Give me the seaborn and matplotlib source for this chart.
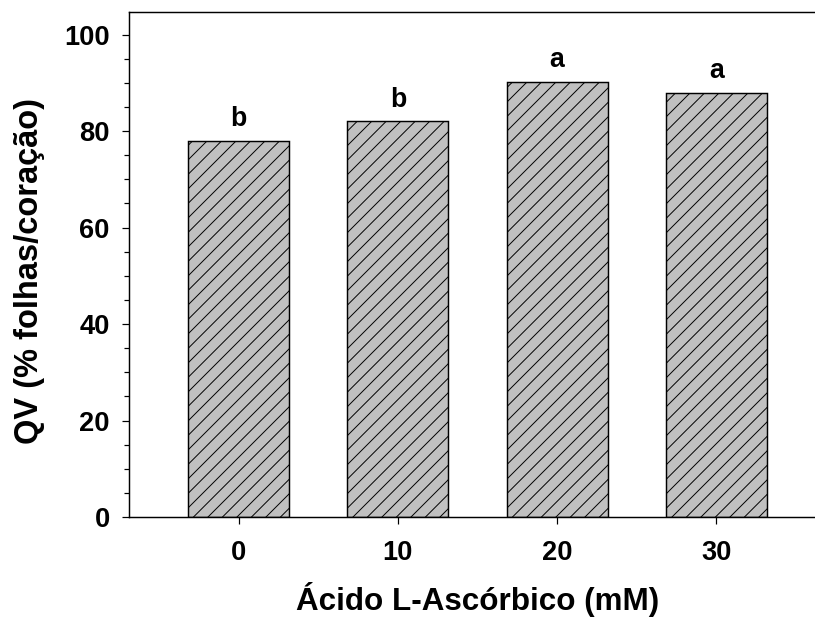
import matplotlib
matplotlib.use("Agg")
import matplotlib.pyplot as plt
from matplotlib.ticker import MultipleLocator
import seaborn as sns
import pandas as pd

# Ascorbic acid concentration (mM) and leaf quality (% leaves/heart)
concentrations = ["0", "10", "20", "30"]
qv_values = [78.0, 82.0, 90.2, 88.0]
letters = ["b", "b", "a", "a"]

DPI = 87
sns.set_theme(style="ticks")
plt.rcParams["font.family"] = ["Liberation Sans", "DejaVu Sans"]
plt.rcParams["font.weight"] = "bold"
plt.rcParams["hatch.linewidth"] = 0.8
plt.rcParams["hatch.color"] = "#1a1a1a"

fig = plt.figure(figsize=(816 / DPI, 618 / DPI), dpi=DPI)
ax = fig.add_axes([129 / 816, 101 / 618, (826 - 129) / 816, (517 - 12) / 618])

df = pd.DataFrame({"conc": concentrations, "qv": qv_values})
sns.barplot(data=df, x="conc", y="qv", order=concentrations, color="#C0C0C0",
            saturation=1, edgecolor="black", linewidth=1.2, width=0.635, ax=ax)

for patch in ax.patches:
    patch.set_hatch("//")
    patch.set_facecolor("#C0C0C0")

ax.bar_label(ax.containers[0], labels=letters, padding=7,
             fontsize=22, fontweight="bold", color="black")

ax.set_xlim(-0.69, 3.69)
ax.set_ylim(0, 104.7)
ax.yaxis.set_major_locator(MultipleLocator(20))
ax.yaxis.set_minor_locator(MultipleLocator(5))

ax.tick_params(axis="both", which="major", direction="out", length=6, width=1,
               labelsize=22.5, color="black", labelcolor="black")
ax.tick_params(axis="y", which="major", pad=10)
ax.tick_params(axis="x", which="major", pad=13)
ax.tick_params(axis="y", which="minor", direction="out", length=4, width=1,
               color="black")
for lbl in ax.get_xticklabels() + ax.get_yticklabels():
    lbl.set_fontweight("bold")

for spine in ax.spines.values():
    spine.set_visible(True)
    spine.set_linewidth(1.2)
    spine.set_color("black")

ax.set_xlabel("Ácido L-Ascórbico (mM)", fontsize=26, fontweight="bold",
              labelpad=13, color="black")
ax.set_ylabel("QV (% folhas/coração)", fontsize=27, fontweight="bold",
              labelpad=16, color="black")
ax.yaxis.label.set_y(0.5 - 6 / 505)

fig.savefig("out.png", dpi=DPI)
